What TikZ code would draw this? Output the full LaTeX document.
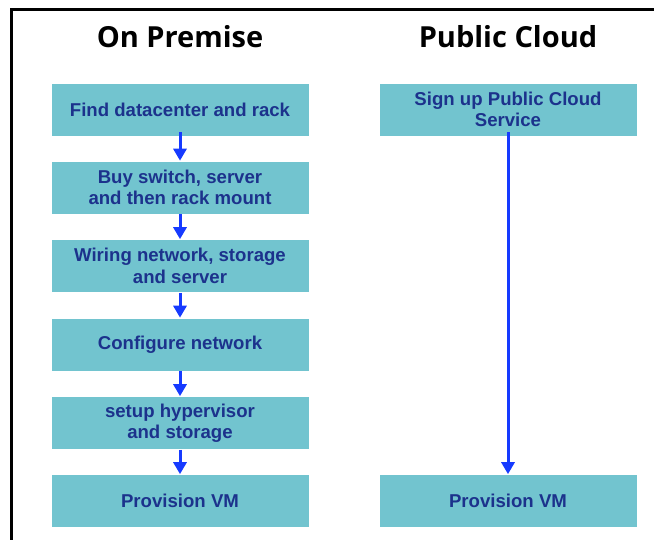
\documentclass[tikz,border=0pt]{standalone}
\usepackage{xcolor}
\usepackage{fontspec}
\setmainfont{Liberation Sans}
\newfontfamily\titlefont{Open Sans}
\usetikzlibrary{arrows.meta, calc}
\definecolor{boxfill}{RGB}{114,196,207}
\definecolor{boxtext}{RGB}{28,50,140}
\definecolor{flowblue}{RGB}{22,58,255}

\begin{document}
\begin{tikzpicture}[x=1pt, y=-1pt, >={Triangle[length=12pt, width=13pt]},
  every node/.style={font=\fontsize{18.6}{21.5}\selectfont\bfseries},
  stepbox/.style={fill=boxfill, draw=white, line width=0.6pt, align=center, text=boxtext, minimum width=258pt, minimum height=53pt, inner sep=0pt},
  heading/.style={font=\titlefont\fontsize{29}{34}\selectfont\bfseries},
  flow/.style={->, draw=flowblue, line width=3pt}]
  \useasboundingbox (0,0) rectangle (654,540);
  \draw[line width=3pt] (11,540) -- (11,10) -- (654,10);
  \node[heading] (onprem) at (180,37) {On Premise};
  \node[heading] (cloud) at (508,37) {Public Cloud};
  % on premise column
  \node[stepbox] (find) at (180,109.5) {Find datacenter and rack};
  \node[stepbox] (buy) at (180,187.5) {Buy switch, server\\and then rack mount};
  \node[stepbox] (wire) at (180,266) {Wiring network, storage\\and server};
  \node[stepbox] (config) at (180,344.5) {Configure network};
  \node[stepbox] (hyper) at (180,423) {setup hypervisor\\and storage};
  \node[stepbox] (provleft) at (180,501) {Provision VM};
  % public cloud column
  \node[stepbox] (signup) at (508,109.5) {Sign up Public Cloud\\Service};
  \node[stepbox] (provright) at (508,501) {Provision VM};
  \draw[flow] ($(find.south)+(0,-4)$) -- (buy.north);
  \draw[flow] (buy.south) -- (wire.north);
  \draw[flow] (wire.south) -- (config.north);
  \draw[flow] (config.south) -- (hyper.north);
  \draw[flow] (hyper.south) -- (provleft.north);
  \draw[flow] ($(signup.south)+(0,-4)$) -- (provright.north);
\end{tikzpicture}
\end{document}
